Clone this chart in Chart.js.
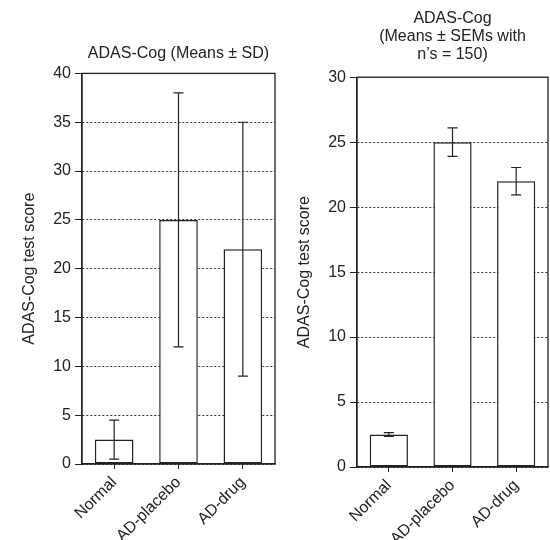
<!DOCTYPE html>
<html>
<head>
<meta charset="utf-8">
<script src="https://cdn.jsdelivr.net/npm/chart.js@4"></script>
<style>
  body { margin: 0; background: #fff; }
  #wrap { position: relative; width: 550px; height: 540px; }
  #sdChart { position: absolute; left: 0; top: 0; }
  #semChart { position: absolute; left: 275px; top: 0; }
</style>
</head>
<body>
<div id="wrap">
  <canvas id="sdChart" width="277" height="540"></canvas>
  <canvas id="semChart" width="275" height="540"></canvas>
</div>
<script>
const groups = ["Normal", "AD-placebo", "AD-drug"];
const means = [2.5, 25, 22];
const sdValues = [2, 13, 13];
const semValues = [0.15, 1.1, 1.05];
const sdAxisMax = 40;
const semAxisMax = 30;
const tickStep = 5;

const ink = "#222";
const font = "'Liberation Sans', Arial, Helvetica, sans-serif";

// whiskers + closed frame round the plot area
const errorBars = {
  id: "errorBars",
  afterDatasetsDraw(chart, args, opts) {
    const { ctx, chartArea: a } = chart;
    const y = chart.scales.y;
    ctx.save();
    ctx.strokeStyle = ink;
    ctx.lineWidth = 1.2;
    chart.getDatasetMeta(0).data.forEach((bar, i) => {
      const cx = bar.x;
      const top = y.getPixelForValue(means[i] + opts.values[i]);
      const bot = y.getPixelForValue(means[i] - opts.values[i]);
      ctx.beginPath();
      ctx.moveTo(cx, top); ctx.lineTo(cx, bot);
      ctx.moveTo(cx - 5, top); ctx.lineTo(cx + 5, top);
      ctx.moveTo(cx - 5, bot); ctx.lineTo(cx + 5, bot);
      ctx.stroke();
    });
    ctx.lineWidth = 1.3;
    ctx.strokeRect(a.left, a.top, a.right - a.left, a.bottom - a.top);
    ctx.restore();
  }
};

function makeChart(id, errs, yMax, title, titlePad, xHeight) {
  return new Chart(document.getElementById(id).getContext("2d"), {
    type: "bar",
    data: {
      labels: groups,
      datasets: [{
        data: means,
        backgroundColor: "#fff",
        borderColor: ink,
        borderWidth: 1.5,
        borderSkipped: false,
        categoryPercentage: 1,
        barPercentage: 0.6
      }]
    },
    plugins: [errorBars],
    options: {
      responsive: false,
      animation: false,
      layout: { padding: { left: 0, right: 2, top: 0, bottom: 0 } },
      plugins: {
        legend: { display: false },
        tooltip: { enabled: false },
        errorBars: { values: errs },
        title: {
          display: true,
          text: title,
          fullSize: false,
          color: ink,
          font: { family: font, size: 16, weight: "normal", lineHeight: 1.15 },
          padding: titlePad
        }
      },
      scales: {
        x: {
          afterFit: s => { s.height = xHeight; },
          grid: { drawOnChartArea: false, drawTicks: true, tickLength: 5, offset: false, tickColor: ink },
          border: { color: ink, width: 1.3 },
          ticks: { color: ink, autoSkip: false, maxRotation: 45, minRotation: 45, padding: 4, font: { family: font, size: 16 } }
        },
        y: {
          min: 0,
          max: yMax,
          afterFit: s => { s.width = 82; },
          grid: { color: "#333", lineWidth: 1, tickLength: 7, tickColor: ink },
          border: { color: ink, width: 1.3, dash: [2, 2] },
          ticks: { stepSize: tickStep, color: ink, padding: 4, font: { family: font, size: 16 } },
          title: {
            display: true,
            text: "ADAS-Cog test score",
            color: ink,
            font: { family: font, size: 16 },
            padding: { top: 20, bottom: 0 }
          }
        }
      }
    }
  });
}

makeChart("sdChart", sdValues, sdAxisMax, "ADAS-Cog (Means \u00b1 SD)", { top: 44, bottom: 11 }, 76);
makeChart("semChart", semValues, semAxisMax,
  ["ADAS-Cog", "(Means \u00b1 SEMs with", "n\u2019s = 150)"], { top: 9, bottom: 13 }, 73);
</script>
</body>
</html>
